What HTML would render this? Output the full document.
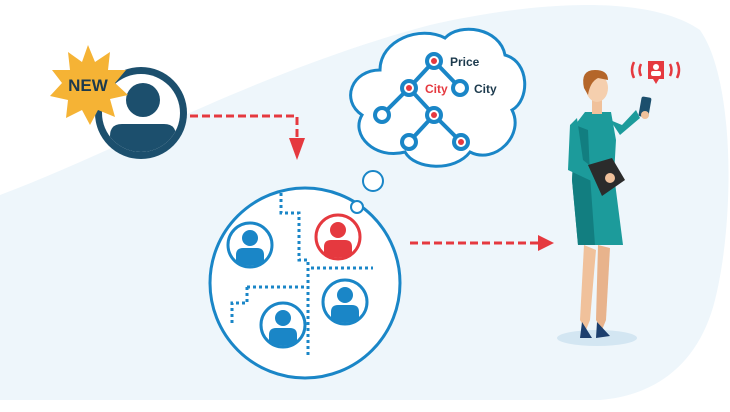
<!DOCTYPE html>
<html><head><style>html,body{margin:0;padding:0;background:#fff}svg{display:block}</style></head><body>
<svg width="730" height="412" viewBox="0 0 730 412" xmlns="http://www.w3.org/2000/svg" font-family="Liberation Sans, sans-serif">
<path d="M0,195 C120,150 260,70 430,25 C540,0 650,-5 700,30 C735,80 735,220 715,300 C700,360 660,395 600,400 L0,400 Z" fill="#eef6fb"/>
<!-- new user -->
<circle cx="141" cy="113" r="46" fill="#1c4f6d"/>
<circle cx="141" cy="113" r="39" fill="#fff"/>
<clipPath id="c1"><circle cx="141" cy="113" r="39"/></clipPath>
<g clip-path="url(#c1)" fill="#1c4f6d"><circle cx="143" cy="100" r="17"/><path d="M110,160 V136 Q110,124 122,124 H164 Q176,124 176,136 V160 Z"/></g>
<polygon fill="#f5b335" points="88,45 95,62 110,52 108,70 126,70 115,83 128,95 110,99 115,117 98,110 90,125 82,110 66,118 68,100 50,96 62,83 52,70 70,70 68,52 82,62"/>
<text x="88" y="91" font-size="17" font-weight="bold" fill="#1c3a4d" text-anchor="middle">NEW</text>
<!-- arrows -->
<path d="M190,116 H297 V138" fill="none" stroke="#e5393f" stroke-width="3" stroke-dasharray="8,4"/>
<polygon points="289,138 305,138 297,160" fill="#e5393f"/>
<path d="M410,243 H540" fill="none" stroke="#e5393f" stroke-width="3" stroke-dasharray="8,4"/>
<polygon points="538,235 554,243 538,251" fill="#e5393f"/>
<!-- cloud -->
<path d="M380,70 C380,40 420,25 445,38 C460,22 500,28 505,55 C530,62 530,100 512,110 C525,135 495,165 470,152 C455,172 415,170 405,152 C375,160 350,135 362,115 C340,100 352,70 380,70 Z" fill="#fff" stroke="#1a86c7" stroke-width="3"/>
<g stroke="#1a86c7" stroke-width="4" fill="none"><path d="M434,61 L409,88 L382,115 M434,61 L460,88 M409,88 L434,115 L409,142 M434,115 L461,142"/></g>
<g fill="#fff" stroke="#1a86c7" stroke-width="4"><circle cx="434" cy="61" r="7"/><circle cx="409" cy="88" r="7"/><circle cx="460" cy="88" r="7"/><circle cx="382" cy="115" r="7"/><circle cx="434" cy="115" r="7"/><circle cx="409" cy="142" r="7"/><circle cx="461" cy="142" r="7"/></g>
<g fill="#e5393f"><circle cx="434" cy="61" r="3"/><circle cx="409" cy="88" r="3"/><circle cx="434" cy="115" r="3"/><circle cx="461" cy="142" r="3"/></g>
<text x="450" y="66" font-size="12" font-weight="bold" fill="#1c3a4d">Price</text>
<text x="425" y="93" font-size="12" font-weight="bold" fill="#e5393f">City</text>
<text x="474" y="93" font-size="12" font-weight="bold" fill="#1c3a4d">City</text>
<circle cx="373" cy="181" r="10" fill="#fff" stroke="#1a86c7" stroke-width="2"/>
<!-- big circle -->
<circle cx="305" cy="283" r="95" fill="#fff" stroke="#1a86c7" stroke-width="3"/>
<circle cx="357" cy="207" r="6" fill="#fff" stroke="#1a86c7" stroke-width="2"/>
<g stroke="#1a86c7" stroke-width="3" fill="none" stroke-dasharray="3,3"><path d="M281,193 V213 H299 V260 H308 V357"/><path d="M311,268 H373"/><path d="M247,287 H306"/><path d="M247,287 V303 H232 V325"/></g>
<g fill="#1a86c7">
<circle cx="250" cy="245" r="22" fill="#fff" stroke="#1a86c7" stroke-width="3"/><circle cx="250" cy="238" r="8"/><path d="M236,263 V255 Q236,248 243,248 H257 Q264,248 264,255 V263 Q250,268 236,263Z"/>
<circle cx="345" cy="302" r="22" fill="#fff" stroke="#1a86c7" stroke-width="3"/><circle cx="345" cy="295" r="8"/><path d="M331,320 V312 Q331,305 338,305 H352 Q359,305 359,312 V320 Q345,325 331,320Z"/>
<circle cx="283" cy="325" r="22" fill="#fff" stroke="#1a86c7" stroke-width="3"/><circle cx="283" cy="318" r="8"/><path d="M269,343 V335 Q269,328 276,328 H290 Q297,328 297,335 V343 Q283,348 269,343Z"/>
</g>
<g fill="#e5393f">
<circle cx="338" cy="237" r="22" fill="#fff" stroke="#e5393f" stroke-width="3"/><circle cx="338" cy="230" r="8"/><path d="M324,255 V247 Q324,240 331,240 H345 Q352,240 352,247 V255 Q338,260 324,255Z"/>
</g>
<!-- woman -->
<ellipse cx="597" cy="338" rx="40" ry="8" fill="#d3e6f2"/>
<path d="M584,245 L580,320 L586,330 L590,320 L596,250 Z" fill="#f0c19b"/>
<path d="M598,245 L596,320 L602,330 L606,320 L610,248 Z" fill="#e8b38c"/>
<path d="M582,322 L580,338 L592,338 Z M597,322 L596,338 L610,336 Z" fill="#1c3f6e"/>
<path d="M585,112 L611,112 L616,140 L614,175 L623,245 L578,245 L572,180 L575,125 Z" fill="#1c9b9b"/>
<path d="M575,125 L572,180 L578,245 L595,245 L590,175 L588,130 Z" fill="#127e80"/>
<path d="M577,118 L570,125 L568,170 L600,185 L604,177 L583,160 Z" fill="#1c9b9b"/>
<path d="M610,120 L620,135 L640,118 L636,110 L622,125 Z" fill="#1c9b9b"/>
<rect x="640" y="97" width="10" height="20" rx="2" fill="#1c4f6d" transform="rotate(10 645 107)"/>
<circle cx="645" cy="115" r="4" fill="#f0c19b"/>
<path d="M588,165 L612,158 L625,180 L602,196 Z" fill="#2b2b2b"/>
<circle cx="610" cy="178" r="5" fill="#f0c19b"/>
<rect x="592" y="98" width="10" height="16" fill="#f0c19b"/>
<ellipse cx="597" cy="88" rx="11" ry="14" fill="#f5cfae"/>
<path d="M584,88 Q580,70 595,70 Q608,70 608,80 L598,78 Q590,82 588,95 Z" fill="#b4662a"/>
<!-- notification -->
<path d="M648,61 h16 v18 h-5 l-3,5 l-3,-5 h-5 Z" fill="#e5393f"/>
<circle cx="656" cy="67" r="3" fill="#fff"/><rect x="651" y="71" width="10" height="5" rx="2" fill="#fff"/>
<g fill="none" stroke="#e5393f" stroke-width="2.5"><path d="M634,62 Q630,70 634,78"/><path d="M641,64 Q638,70 641,76"/><path d="M670,64 Q673,70 670,76"/><path d="M677,62 Q681,70 677,78"/></g>
</svg>
</body></html>
